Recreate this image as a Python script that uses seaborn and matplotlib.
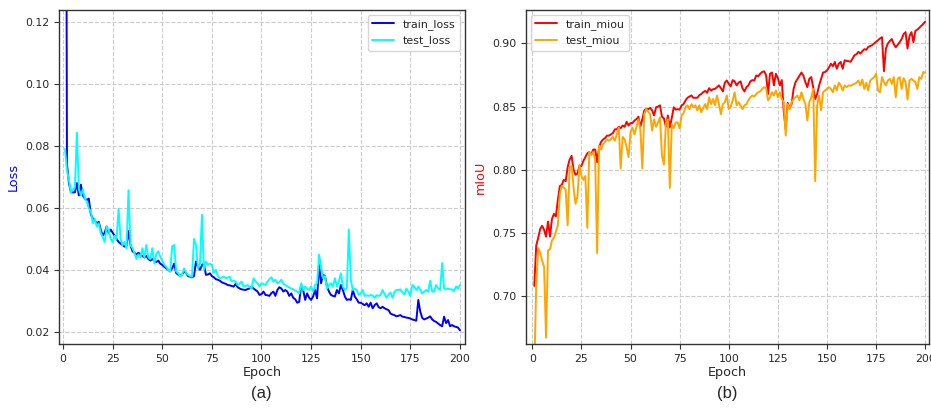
import numpy as np
import pandas as pd
import matplotlib
matplotlib.use("Agg")
import matplotlib.pyplot as plt
import seaborn as sns

epochs = list(range(1, 201))

train_loss = [
    0.35, 0.074, 0.068, 0.065, 0.065, 0.065, 0.068, 0.064, 0.0675, 0.064,
    0.063, 0.0625, 0.063, 0.058, 0.0565, 0.056, 0.055, 0.0555, 0.053, 0.051,
    0.052, 0.054, 0.052, 0.053, 0.052, 0.051, 0.050, 0.049, 0.0485, 0.048,
    0.0475, 0.0478, 0.0525, 0.048, 0.046, 0.0455, 0.045, 0.0455, 0.045, 0.0445,
    0.044, 0.0445, 0.0435, 0.043, 0.0435, 0.043, 0.0425, 0.043, 0.042, 0.0416,
    0.041, 0.0405, 0.040, 0.0395, 0.0405, 0.042, 0.039, 0.0385, 0.038, 0.0385,
    0.0395, 0.039, 0.038, 0.0378, 0.0376, 0.038, 0.0427, 0.041, 0.040, 0.0415,
    0.042, 0.0384, 0.0385, 0.0389, 0.038, 0.0376, 0.037, 0.0368, 0.0365, 0.036,
    0.0357, 0.0355, 0.0351, 0.035, 0.0348, 0.0346, 0.0355, 0.0344, 0.034, 0.0337,
    0.0336, 0.0335, 0.0338, 0.034, 0.0346, 0.034, 0.0335, 0.033, 0.0319, 0.0322,
    0.033, 0.0319, 0.0318, 0.0316, 0.0325, 0.033, 0.0316, 0.0335, 0.0344, 0.034,
    0.033, 0.0335, 0.033, 0.0316, 0.0324, 0.031, 0.0305, 0.0294, 0.0297, 0.0351,
    0.0335, 0.0303, 0.0324, 0.031, 0.0303, 0.0314, 0.0335, 0.0308, 0.0416, 0.0357,
    0.0384, 0.038, 0.0346, 0.033, 0.0319, 0.0316, 0.0314, 0.0335, 0.0324, 0.0351,
    0.0335, 0.0314, 0.0303, 0.0305, 0.0303, 0.0335, 0.0314, 0.0305, 0.0294, 0.0294,
    0.029, 0.0286, 0.0292, 0.0281, 0.0294, 0.0276, 0.0286, 0.0292, 0.028, 0.0276,
    0.0281, 0.0276, 0.0273, 0.027, 0.0259, 0.0256, 0.0254, 0.025, 0.0252, 0.0254,
    0.0249, 0.0248, 0.0246, 0.0245, 0.0243, 0.024, 0.0238, 0.0236, 0.0303, 0.0265,
    0.0245, 0.024, 0.0243, 0.0246, 0.025, 0.024, 0.0235, 0.0232, 0.0227, 0.0222,
    0.0218, 0.0249, 0.0228, 0.0238, 0.0218, 0.0222, 0.0218, 0.0216, 0.0214, 0.0205,
]

test_loss = [
    0.079, 0.072, 0.069, 0.065, 0.066, 0.0665, 0.0843, 0.066, 0.064, 0.066,
    0.063, 0.062, 0.0598, 0.059, 0.055, 0.0565, 0.054, 0.055, 0.052, 0.0505,
    0.049, 0.054, 0.053, 0.050, 0.049, 0.051, 0.050, 0.0597, 0.050, 0.048,
    0.049, 0.047, 0.0657, 0.048, 0.047, 0.0455, 0.0435, 0.045, 0.044, 0.047,
    0.044, 0.048, 0.044, 0.0435, 0.047, 0.042, 0.045, 0.046, 0.0443, 0.043,
    0.0416, 0.041, 0.040, 0.0395, 0.0476, 0.048, 0.0395, 0.039, 0.0378, 0.0385,
    0.0405, 0.039, 0.0384, 0.038, 0.0378, 0.050, 0.048, 0.0405, 0.042, 0.0578,
    0.040, 0.0427, 0.0416, 0.042, 0.0416, 0.039, 0.040, 0.038, 0.0373, 0.0375,
    0.0378, 0.0373, 0.0375, 0.0378, 0.0362, 0.0365, 0.0362, 0.0351, 0.0356, 0.0362,
    0.0346, 0.0348, 0.0351, 0.0345, 0.034, 0.0373, 0.0362, 0.0357, 0.0346, 0.0357,
    0.0354, 0.0351, 0.0362, 0.037, 0.0376, 0.0362, 0.0368, 0.0357, 0.036, 0.0368,
    0.0355, 0.0351, 0.0347, 0.0343, 0.034, 0.0337, 0.0333, 0.033, 0.0324, 0.0357,
    0.0335, 0.0346, 0.034, 0.0335, 0.0346, 0.033, 0.0351, 0.0357, 0.0449, 0.041,
    0.0373, 0.038, 0.034, 0.0351, 0.0357, 0.0346, 0.0373, 0.0346, 0.0362, 0.0389,
    0.0346, 0.0335, 0.034, 0.053, 0.0367, 0.0335, 0.034, 0.0335, 0.0319, 0.0324,
    0.0335, 0.0316, 0.0318, 0.0316, 0.0319, 0.0317, 0.031, 0.0318, 0.0316, 0.0319,
    0.0335, 0.0322, 0.031, 0.032, 0.0327, 0.031, 0.0329, 0.0335, 0.0335, 0.0337,
    0.0327, 0.032, 0.034, 0.0329, 0.0316, 0.0351, 0.0346, 0.0335, 0.0346, 0.0335,
    0.0324, 0.033, 0.0335, 0.033, 0.0365, 0.033, 0.033, 0.0351, 0.034, 0.0335,
    0.0422, 0.034, 0.0337, 0.034, 0.0337, 0.0337, 0.0332, 0.0346, 0.034, 0.0351,
]

train_miou = [
    0.708, 0.740, 0.746, 0.753, 0.7556, 0.7524, 0.747, 0.759, 0.747, 0.761,
    0.765, 0.763, 0.776, 0.787, 0.788, 0.792, 0.791, 0.802, 0.808, 0.811,
    0.800, 0.796, 0.797, 0.803, 0.803, 0.807, 0.810, 0.813, 0.814, 0.812,
    0.816, 0.816, 0.806, 0.818, 0.822, 0.824, 0.825, 0.827, 0.827, 0.828,
    0.829, 0.832, 0.832, 0.834, 0.833, 0.835, 0.834, 0.838, 0.835, 0.837,
    0.837, 0.839, 0.840, 0.842, 0.834, 0.840, 0.847, 0.848, 0.848, 0.849,
    0.847, 0.843, 0.8495, 0.850, 0.851, 0.842, 0.8407, 0.834, 0.843, 0.8335,
    0.841, 0.8495, 0.8476, 0.848, 0.8476, 0.851, 0.852, 0.855, 0.857, 0.858,
    0.8588, 0.857, 0.857, 0.857, 0.859, 0.860, 0.8614, 0.8625, 0.861, 0.8646,
    0.8628, 0.8638, 0.864, 0.8654, 0.8668, 0.8646, 0.862, 0.869, 0.8707, 0.868,
    0.866, 0.871, 0.870, 0.8668, 0.869, 0.870, 0.8645, 0.862, 0.8654, 0.8668,
    0.870, 0.871, 0.8707, 0.8747, 0.874, 0.876, 0.8774, 0.878, 0.875, 0.860,
    0.876, 0.877, 0.8668, 0.876, 0.8726, 0.8668, 0.871, 0.846, 0.832, 0.853,
    0.849, 0.852, 0.864, 0.8694, 0.872, 0.8745, 0.877, 0.8745, 0.8694, 0.8654,
    0.872, 0.8734, 0.865, 0.856, 0.860, 0.8668, 0.872, 0.877, 0.8774, 0.8787,
    0.881, 0.884, 0.882, 0.8854, 0.880, 0.884, 0.8854, 0.880, 0.8867, 0.8862,
    0.886, 0.8855, 0.888, 0.8907, 0.8915, 0.8934, 0.892, 0.8939, 0.8955, 0.895,
    0.8973, 0.898, 0.8987, 0.900, 0.9013, 0.9027, 0.904, 0.905, 0.878, 0.896,
    0.900, 0.902, 0.9035, 0.8995, 0.897, 0.899, 0.901, 0.9035, 0.9075, 0.909,
    0.896, 0.906, 0.909, 0.901, 0.910, 0.911, 0.9125, 0.914, 0.9155, 0.9173,
]

test_miou = [
    0.640, 0.709, 0.738, 0.734, 0.728, 0.723, 0.667, 0.736, 0.737, 0.744,
    0.746, 0.751, 0.756, 0.781, 0.787, 0.786, 0.784, 0.756, 0.802, 0.803,
    0.786, 0.773, 0.779, 0.804, 0.795, 0.792, 0.795, 0.754, 0.814, 0.812,
    0.814, 0.808, 0.734, 0.819, 0.816, 0.820, 0.822, 0.824, 0.823, 0.824,
    0.826, 0.823, 0.828, 0.8335, 0.801, 0.826, 0.824, 0.818, 0.810, 0.830,
    0.8335, 0.828, 0.834, 0.840, 0.832, 0.801, 0.844, 0.848, 0.846, 0.844,
    0.831, 0.840, 0.834, 0.8375, 0.8415, 0.811, 0.804, 0.837, 0.840, 0.7856,
    0.836, 0.833, 0.8375, 0.8375, 0.8327, 0.843, 0.845, 0.8495, 0.851, 0.848,
    0.852, 0.8495, 0.851, 0.847, 0.851, 0.8455, 0.849, 0.852, 0.848, 0.8574,
    0.852, 0.856, 0.851, 0.8588, 0.852, 0.844, 0.852, 0.8535, 0.8588, 0.848,
    0.850, 0.855, 0.8614, 0.851, 0.8535, 0.851, 0.848, 0.851, 0.852, 0.855,
    0.8575, 0.8588, 0.858, 0.860, 0.8614, 0.862, 0.864, 0.8654, 0.8646, 0.855,
    0.8574, 0.8614, 0.8588, 0.8628, 0.8574, 0.8614, 0.856, 0.8535, 0.827, 0.852,
    0.848, 0.8535, 0.856, 0.8574, 0.8588, 0.855, 0.8614, 0.856, 0.852, 0.839,
    0.8535, 0.8574, 0.864, 0.791, 0.851, 0.8588, 0.847, 0.8614, 0.8628, 0.864,
    0.8654, 0.864, 0.8614, 0.8668, 0.8628, 0.8689, 0.8668, 0.8628, 0.8668, 0.8654,
    0.8668, 0.8665, 0.8673, 0.868, 0.8689, 0.8707, 0.8668, 0.8715, 0.864, 0.8689,
    0.8628, 0.8707, 0.872, 0.8734, 0.876, 0.8628, 0.8614, 0.8734, 0.8694, 0.8668,
    0.8707, 0.872, 0.868, 0.8734, 0.8574, 0.872, 0.8734, 0.864, 0.8726, 0.8694,
    0.8556, 0.8707, 0.872, 0.8707, 0.8694, 0.864, 0.8734, 0.872, 0.8774, 0.8768,
]

loss_ticks = [0.02, 0.04, 0.06, 0.08, 0.10, 0.12]
miou_ticks = [0.70, 0.75, 0.80, 0.85, 0.90]
epoch_ticks = [0, 25, 50, 75, 100, 125, 150, 175, 200]

df = pd.DataFrame({
    "Epoch": epochs,
    "train_loss": train_loss,
    "test_loss": test_loss,
    "train_miou": train_miou,
    "test_miou": test_miou,
})

sns.set_style("white")
plt.rcParams["font.family"] = ["DejaVu Sans"]

fig = plt.figure(figsize=(9.31, 4.08), dpi=100)
ax1 = fig.add_axes([0.0634, 0.157, 0.436, 0.819])
ax2 = fig.add_axes([0.565, 0.157, 0.433, 0.819])

sns.lineplot(data=df, x="Epoch", y="train_loss", ax=ax1, color="blue", linewidth=1.4, label="train_loss")
sns.lineplot(data=df, x="Epoch", y="test_loss", ax=ax1, color="cyan", linewidth=1.4, label="test_loss")
sns.lineplot(data=df, x="Epoch", y="train_miou", ax=ax2, color="red", linewidth=1.4, label="train_miou")
sns.lineplot(data=df, x="Epoch", y="test_miou", ax=ax2, color="orange", linewidth=1.4, label="test_miou")

ax1.set_xlim(-2, 202.5)
ax1.set_ylim(0.0161, 0.1239)
ax1.set_yticks(loss_ticks)
ax2.set_xlim(-3.2, 202)
ax2.set_ylim(0.662, 0.9267)
ax2.set_yticks(miou_ticks)

for ax, ylab, ycol in [(ax1, "Loss", "blue"), (ax2, "mIoU", "red")]:
    ax.set_xticks(epoch_ticks)
    ax.grid(True, linestyle="--", color="#cccccc", linewidth=0.8)
    ax.set_xlabel("Epoch", fontsize=9.2, labelpad=1.5)
    ax.set_ylabel(ylab, color=ycol, fontsize=9.2, labelpad=4)
    ax.tick_params(axis="both", which="major", labelsize=7.8, length=3.5, width=0.8,
                   direction="out", bottom=True, left=True, color="#333333")
    for sp in ax.spines.values():
        sp.set_color("#333333")
        sp.set_linewidth(1.0)

ax1.yaxis.set_major_formatter(matplotlib.ticker.FormatStrFormatter("%.2f"))
ax2.yaxis.set_major_formatter(matplotlib.ticker.FormatStrFormatter("%.2f"))

ax1.legend(loc="upper right", fontsize=7.9, frameon=True, fancybox=True,
           borderaxespad=0.45, handlelength=2.0)
ax2.legend(loc="upper left", fontsize=7.9, frameon=True, fancybox=True,
           borderaxespad=0.45, handlelength=2.0)

fig.text(0.281, 0.035, "(a)", ha="center", va="center", fontsize=12, family="Liberation Sans")
fig.text(0.781, 0.035, "(b)", ha="center", va="center", fontsize=12, family="Liberation Sans")

fig.savefig("out.png", dpi=100)
